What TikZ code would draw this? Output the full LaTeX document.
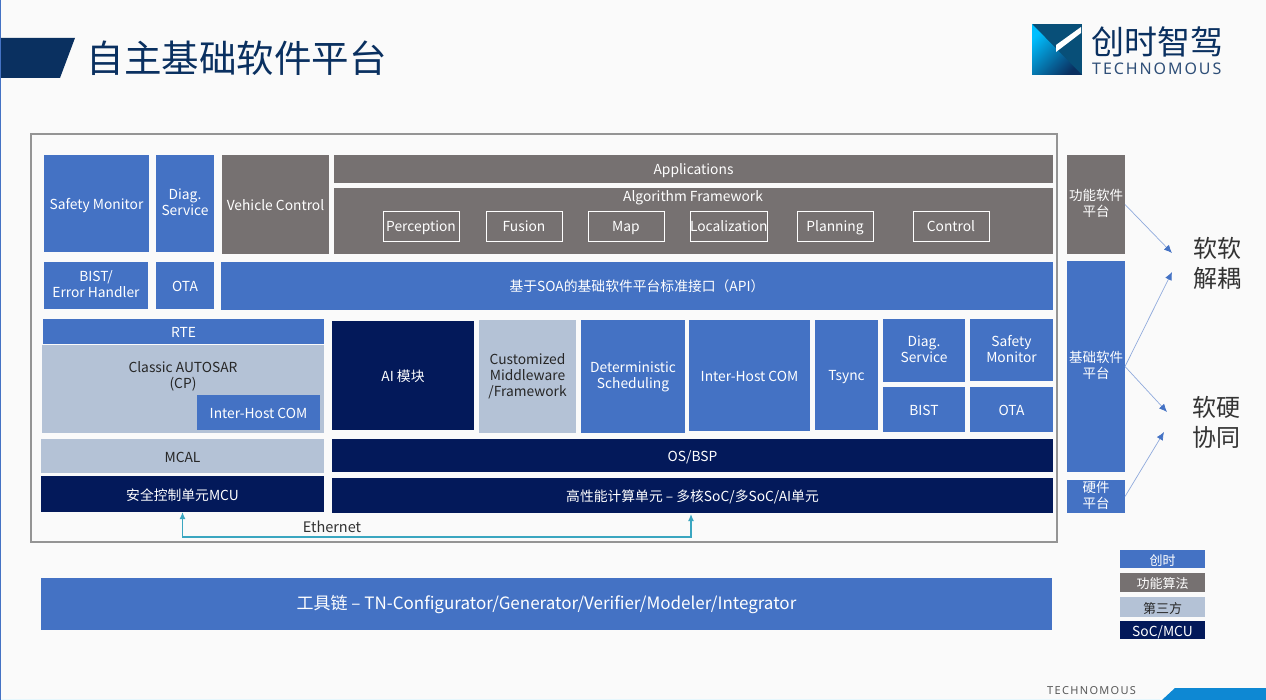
\documentclass[tikz,border=0pt]{standalone}
\usepackage{fontspec}
\setmainfont{Noto Sans CJK SC}
\newfontfamily\spacedfont[LetterSpace=12]{Noto Sans}
\usetikzlibrary{arrows.meta,calc}
\definecolor{tnblue}{HTML}{4472C4}
\definecolor{tngray}{HTML}{767171}
\definecolor{tnlight}{HTML}{B4C2D6}
\definecolor{tndark}{HTML}{03195A}
\definecolor{tnnavy}{HTML}{0A3060}
\definecolor{tncyan}{HTML}{3AA6C0}
\tikzset{
    block/.style={anchor=north west, inner sep=0pt, outer sep=0pt, align=center, font=\fontsize{13.8}{16}\selectfont,
        execute at begin node={\rule{0pt}{15pt}}, execute at end node={\rule[-3pt]{0pt}{3pt}}},
    size/.style 2 args={minimum width=#1pt, minimum height=#2pt},
    blueblock/.style={block, fill=tnblue, text=white},
    grayblock/.style={block, fill=tngray, text=white},
    lightblock/.style={block, fill=tnlight, text=black!85},
    darkblock/.style={block, fill=tndark, text=white},
    algobox/.style={block, draw=white, line width=0.8pt, fill=tngray, text=white},
    sideblock/.style={font=\fontsize{13.5}{15.5}\selectfont},
    keyblock/.style={font=\fontsize{13}{14}\selectfont},
    mapline/.style={draw=tnblue!60, line width=0.7pt, -{Latex[length=8pt,width=7pt,color=tnblue]}},
    ethline/.style={draw=tncyan, line width=1.3pt, {Latex[length=7pt,width=6pt]}-{Latex[length=7pt,width=6pt]}},
    bigword/.style={align=center, font=\fontsize{24}{30}\selectfont, text=black!80}
}
\begin{document}
\begin{tikzpicture}[x=1pt, y=-1pt]
    \useasboundingbox (0,0) rectangle (1266,700);
    \fill[white!98!black] (0,0) rectangle (1266,700);
    \fill[tnblue] (0,0) rectangle (1.2,700);
    \fill[cyan!10] (1.2,698.6) rectangle (1160,700);
    \fill[tnnavy] (1.2,38) -- (75,38) -- (60,78) -- (1.2,78) -- cycle;
    \node[anchor=west, inner sep=0pt, text=tnnavy, font=\fontsize{37.5}{40}\selectfont] (title) at (86.5,58) {自主基础软件平台};

    \fill[tnnavy!85!cyan] (1032,24) rectangle (1082,75);
    \shade[left color=cyan!75!blue, middle color=tnnavy, right color=tnnavy, shading angle=45] (1032,24) -- (1082,75) -- (1032,75) -- cycle;
    \fill[white] (1081,27) -- (1081,33) -- (1056,52) -- (1056,45) -- cycle;
    \node[anchor=west, inner sep=0pt, text=tnnavy, font=\fontsize{33}{35}\selectfont] (logoname) at (1091,42) {创时智驾};
    \node[anchor=west, inner sep=0pt, text=tnnavy!85, font=\fontsize{16}{17}\spacedfont] (logoword) at (1092,69) {TECHNOMOUS};

    \draw[draw=black!42, line width=1.3pt] (31,134) rectangle (1057,542);

    \node[blueblock, size={105}{97}] (safetytop) at (44,155) {Safety Monitor};
    \node[blueblock, size={58}{97}] (diagtop) at (156,155) {Diag.\\Service};
    \node[grayblock, size={107}{99}] (vehicle) at (222,155) {Vehicle Control};
    \node[grayblock, size={719}{28}] (apps) at (334,155) {Applications};
    \node[grayblock, size={719}{66}] (algo) at (334,188) {};
    \node[anchor=center, inner sep=0pt, text=white, font=\fontsize{13.8}{16}\selectfont] (algotitle) at (693,197.5) {Algorithm Framework};
    \node[algobox, size={76}{30}] (perception) at (383,211) {Perception};
    \node[algobox, size={76}{30}] (fusion) at (486,211) {Fusion};
    \node[algobox, size={76}{30}] (map) at (588,211) {Map};
    \node[algobox, size={76}{30}] (local) at (690,211) {Localization};
    \node[algobox, size={76}{30}] (planning) at (797,211) {Planning};
    \node[algobox, size={76}{30}] (control) at (913,211) {Control};

    \node[blueblock, size={104}{47}] (bisttop) at (44,262) {BIST/\\Error Handler};
    \node[blueblock, size={58}{47}] (otatop) at (156,262) {OTA};
    \node[blueblock, size={832}{48}] (api) at (221,262) {基于SOA的基础软件平台标准接口（API）};

    \node[blueblock, size={281}{25}] (rte) at (43,319) {RTE};
    \node[lightblock, size={282}{88}] (autosar) at (42,345) {};
    \node[anchor=center, align=center, inner sep=0pt, text=black!85, font=\fontsize{13.8}{16}\selectfont] (autosartext) at (183,376) {Classic AUTOSAR\\(CP)};
    \node[blueblock, size={123}{35}] (interhostcp) at (197,395) {Inter-Host COM};

    \node[darkblock, size={142}{109}] (aimod) at (332,321) {AI 模块};
    \node[lightblock, size={97}{113}] (middleware) at (479,320) {Customized\\Middleware\\/Framework};
    \node[blueblock, size={104}{113}] (sched) at (581,320) {Deterministic\\Scheduling};
    \node[blueblock, size={121}{111}] (interhost) at (689,320) {Inter-Host COM};
    \node[blueblock, size={63}{110}] (tsync) at (815,320) {Tsync};
    \node[blueblock, size={82}{63}] (diaglow) at (883,319) {Diag.\\Service};
    \node[blueblock, size={83}{62}] (safetylow) at (970,319) {Safety\\Monitor};
    \node[blueblock, size={82}{45}] (bistlow) at (883,387) {BIST};
    \node[blueblock, size={83}{45}] (otalow) at (970,387) {OTA};

    \node[lightblock, size={283}{34}] (mcal) at (41,439) {MCAL};
    \node[darkblock, size={283}{36}] (mcu) at (41,476) {安全控制单元MCU};
    \node[darkblock, size={721}{33}] (os) at (332,439) {OS/BSP};
    \node[darkblock, size={721}{35}] (hpc) at (332,478) {高性能计算单元 – 多核SoC/多SoC/AI单元};

    \coordinate (ethbend) at (691,537);
    \coordinate (ethtip) at (691,514);
    \draw[ethline] (mcu.south) |- (ethbend) -- (ethtip);
    \node[inner sep=0pt, text=black!80, font=\fontsize{14.5}{16}\selectfont] (ethernet) at (332,527) {Ethernet};

    \node[blueblock, size={1011}{52}, font=\fontsize{17}{18}\selectfont] (toolchain) at (41,578) {工具链 – TN-Configurator/Generator/Verifier/Modeler/Integrator};

    \node[grayblock, sideblock, size={58}{99}] (funcplat) at (1067,155) {功能软件\\平台};
    \node[blueblock, sideblock, size={58}{211}] (baseplat) at (1067,261) {基础软件\\平台};
    \node[blueblock, sideblock, size={58}{33}] (hwplat) at (1067,480) {硬件\\平台};

    \node[bigword] (decouple) at (1217,263) {软软\\解耦};
    \node[bigword] (synergy) at (1216,422) {软硬\\协同};
    \coordinate (tipa) at (1172,253);
    \coordinate (tipb) at (1172,272);
    \coordinate (tipc) at (1167,412);
    \coordinate (tipd) at (1164,432);
    \draw[mapline] (funcplat.east) -- (tipa);
    \draw[mapline] (baseplat.east) -- (tipb);
    \draw[mapline] (baseplat.east) -- (tipc);
    \draw[mapline] (hwplat.east) -- (tipd);

    \node[blueblock, keyblock, size={85}{18}] (keyown) at (1120,550) {创时};
    \node[grayblock, keyblock, size={85}{19}] (keyalgo) at (1120,573) {功能算法};
    \node[lightblock, keyblock, size={85}{20}] (keythird) at (1120,597) {第三方};
    \node[darkblock, size={85}{18}] (keysoc) at (1120,621) {SoC/MCU};

    \node[anchor=west, inner sep=0pt, text=black!65, font=\fontsize{11}{12}\spacedfont] (footword) at (1047,691) {TECHNOMOUS};
    \fill[cyan!70!blue] (1162,700) -- (1175,688) -- (1266,688) -- (1266,700) -- cycle;
\end{tikzpicture}
\end{document}
